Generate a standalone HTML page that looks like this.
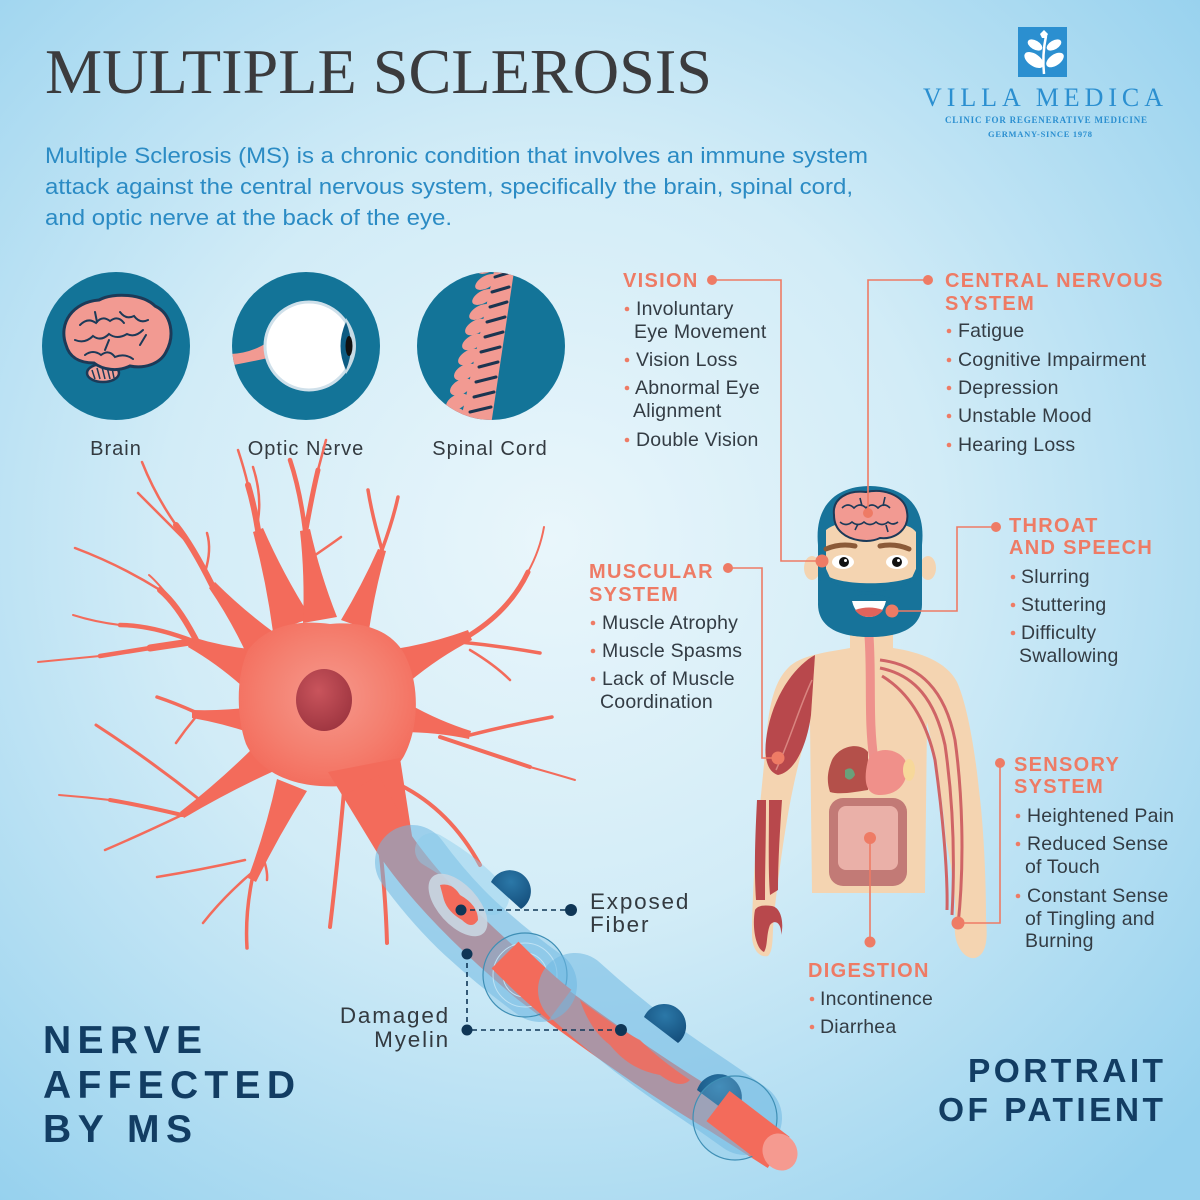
<!DOCTYPE html>
<html><head><meta charset="utf-8"><style>
html,body{margin:0;padding:0;width:1200px;height:1200px;overflow:hidden;background:#c8e8f6}
svg{display:block}
.s{font-family:"Liberation Sans",Arial,sans-serif}
.h{font-family:"Liberation Sans",Arial,sans-serif;font-weight:bold;font-size:20px;letter-spacing:1.3px;fill:#ee7b65}
.t{font-family:"Liberation Sans",Arial,sans-serif;font-size:19.5px;letter-spacing:0.2px;fill:#333c44}
.b{fill:#ee7b65}
.lab{font-family:"Liberation Sans",Arial,sans-serif;font-size:20px;letter-spacing:1px;fill:#333a40}
</style></head><body>
<svg width="1200" height="1200" viewBox="0 0 1200 1200" xmlns="http://www.w3.org/2000/svg">
<defs>
<radialGradient id="bg" cx="0.46" cy="0.45" r="0.72">
<stop offset="0" stop-color="#e9f6fb"/>
<stop offset="0.45" stop-color="#d2ecf7"/>
<stop offset="1" stop-color="#96d1ee"/>
</radialGradient>
<radialGradient id="soma" cx="0.5" cy="0.45" r="0.6">
<stop offset="0" stop-color="#f6988c"/>
<stop offset="0.6" stop-color="#f47f6f"/>
<stop offset="1" stop-color="#f36b5b"/>
</radialGradient>
<radialGradient id="nuc" cx="0.4" cy="0.35" r="0.7">
<stop offset="0" stop-color="#c9545c"/>
<stop offset="1" stop-color="#9e3540"/>
</radialGradient>
<radialGradient id="bump" cx="0.5" cy="0.3" r="0.8">
<stop offset="0" stop-color="#2b78a8"/>
<stop offset="1" stop-color="#124a77"/>
</radialGradient>
<clipPath id="c1"><circle cx="116" cy="346" r="74"/></clipPath>
<clipPath id="c2"><circle cx="306" cy="346" r="74"/></clipPath>
<clipPath id="c3"><circle cx="491" cy="346" r="74"/></clipPath>
</defs>

<rect width="1200" height="1200" fill="url(#bg)"/>

<!-- Title -->
<text x="45" y="93" font-family="'Liberation Serif',serif" font-size="64" fill="#3b3b3d" textLength="667" lengthAdjust="spacingAndGlyphs">MULTIPLE SCLEROSIS</text>

<g class="s" font-size="22" fill="#2b8bc4">
<text x="45" y="163" textLength="823" lengthAdjust="spacingAndGlyphs">Multiple Sclerosis (MS) is a chronic condition that involves an immune system</text>
<text x="45" y="194" textLength="808" lengthAdjust="spacingAndGlyphs">attack against the central nervous system, specifically the brain, spinal cord,</text>
<text x="45" y="225" textLength="407" lengthAdjust="spacingAndGlyphs">and optic nerve at the back of the eye.</text>
</g>

<!-- Logo -->
<rect x="1018" y="27" width="49" height="50" fill="#2b8fd0"/>
<g fill="#ffffff">
<path d="M1044,74 Q1042,55 1046,36" stroke="#fff" stroke-width="2.5" fill="none"/>
<ellipse cx="1034" cy="60" rx="11" ry="6" transform="rotate(35 1034 60)"/>
<ellipse cx="1055" cy="60" rx="10" ry="5.5" transform="rotate(-35 1055 60)"/>
<ellipse cx="1035" cy="45" rx="8" ry="4.5" transform="rotate(30 1035 45)"/>
<ellipse cx="1054" cy="45" rx="8" ry="4.5" transform="rotate(-30 1054 45)"/>
<path d="M1040,34 L1044,30 L1048,34 L1046,38 L1042,38 Z"/>
</g>
<text x="923" y="106" font-family="'Liberation Serif',serif" font-size="26" fill="#2b8fd0" textLength="240" lengthAdjust="spacing">VILLA MEDICA</text>
<text x="945" y="123" font-family="'Liberation Serif',serif" font-size="9" font-weight="bold" fill="#2b8fd0" textLength="202" lengthAdjust="spacing">CLINIC FOR REGENERATIVE MEDICINE</text>
<text x="988" y="137" font-family="'Liberation Serif',serif" font-size="8.5" font-weight="bold" fill="#2b8fd0" textLength="104" lengthAdjust="spacing">GERMANY-SINCE 1978</text>

<!-- Circles -->
<circle cx="116" cy="346" r="74" fill="#137498"/>
<circle cx="306" cy="346" r="74" fill="#137498"/>
<circle cx="491" cy="346" r="74" fill="#137498"/>

<!-- Brain icon -->
<g clip-path="url(#c1)">
<ellipse cx="103" cy="373" rx="16" ry="9" fill="#f2a099" stroke="#1c3a58" stroke-width="2.5"/>
<path d="M92,370 l3,9 M97,368 l3,11 M102,367 l3,12 M107,367 l3,12 M112,368 l2,10" stroke="#1c3a58" stroke-width="1.5"/>
<path d="M66,345 C58,323 73,302 99,300 C114,292 143,294 155,306 C172,314 175,336 166,352 C160,364 144,369 130,366 C118,372 103,370 94,363 C78,363 69,356 66,345 Z" fill="#f29a92" stroke="#1c3a58" stroke-width="3"/>
<g stroke="#1c3a58" stroke-width="2" fill="none" stroke-linecap="round">
<path d="M80,325 q8,-8 16,-2 q6,-8 14,-2 q8,-6 14,2"/>
<path d="M75,340 q10,4 18,-4 q8,6 16,-2 q8,6 18,0 q8,4 16,-4"/>
<path d="M85,355 q8,-6 16,0 q8,-6 14,2 q10,-4 18,2"/>
<path d="M120,312 q6,8 14,4 q6,8 14,4"/>
<path d="M105,350 l4,-10 M140,345 l6,-10 M95,312 l2,10"/>
</g>
</g>

<!-- Eye icon -->
<g clip-path="url(#c2)">
<path d="M228,354 Q250,354 268,342 L268,358 Q250,362 228,366 Z" fill="#f29a92"/>
<circle cx="309" cy="346" r="44" fill="#ffffff" stroke="#cfe0ea" stroke-width="3"/>
<path d="M346,318 Q366,346 346,374 Q338,346 346,318 Z" fill="#c6dbe5"/>
<path d="M346,322 Q356,346 346,370 Q335,346 346,322 Z" fill="#0d5b82"/>
<ellipse cx="349" cy="346" rx="3.5" ry="10" fill="#111"/>
</g>

<!-- Spine icon -->
<g clip-path="url(#c3)">
<polygon points="516,258 490,432 458,432 497,258" fill="#f29a92"/>
<g fill="#f29a92">
<ellipse cx="488" cy="266" rx="12" ry="6" transform="rotate(-30 488 266)"/>
<ellipse cx="486" cy="282" rx="12" ry="6" transform="rotate(-30 486 282)"/>
<ellipse cx="483" cy="297" rx="12" ry="6" transform="rotate(-30 483 297)"/>
<ellipse cx="480" cy="312" rx="12" ry="6" transform="rotate(-30 480 312)"/>
<ellipse cx="476" cy="327" rx="12" ry="6.5" transform="rotate(-30 476 327)"/>
<ellipse cx="473" cy="342" rx="12" ry="6.5" transform="rotate(-30 473 342)"/>
<ellipse cx="469" cy="357" rx="12" ry="6.5" transform="rotate(-30 469 357)"/>
<ellipse cx="465" cy="372" rx="12" ry="7" transform="rotate(-30 465 372)"/>
<ellipse cx="461" cy="387" rx="12" ry="7" transform="rotate(-30 461 387)"/>
<ellipse cx="457" cy="402" rx="12" ry="7" transform="rotate(-30 457 402)"/>
<ellipse cx="453" cy="417" rx="12" ry="7" transform="rotate(-30 453 417)"/>
</g>
<g stroke="#1b3550" stroke-width="3" stroke-linecap="round">
<path d="M511,272 l-16,5 M509,287 l-17,5 M507,302 l-17,5 M505,317 l-18,5 M503,332 l-18,5 M500,347 l-19,5 M498,362 l-19,5 M496,377 l-20,5 M494,392 l-20,5 M491,407 l-21,5 M489,422 l-21,5"/>
</g>
</g>

<text x="116" y="455" text-anchor="middle" class="lab">Brain</text>
<text x="306" y="455" text-anchor="middle" class="lab">Optic Nerve</text>
<text x="490" y="455" text-anchor="middle" class="lab">Spinal Cord</text>

<!-- Neuron: tapered trunks -->
<g fill="#f36b5b">
<path d="M258,650 Q224,647 192,637 L188,647 Q216,663 242,686 Z"/>
<path d="M276,634 Q243,610 215,582 L209,588 Q231,620 248,657 Z"/>
<path d="M311,618 Q283,574 263,528 L253,532 Q266,580 273,632 Z"/>
<path d="M337,617 Q320,574 310,529 L300,531 Q305,576 303,623 Z"/>
<path d="M369,630 Q375,590 386,551 L378,549 Q362,585 341,620 Z"/>
<path d="M409,682 Q439,657 472,640 L468,630 Q433,643 395,649 Z"/>
<path d="M401,732 Q436,732 469,739 L471,731 Q439,721 409,704 Z"/>
<path d="M253,707 Q223,711 192,710 L192,718 Q221,723 251,733 Z"/>
<path d="M256,745 Q220,781 180,812 L184,818 Q228,792 274,771 Z"/>
<path d="M277,779 Q266,830 248,878 L256,882 Q279,835 307,791 Z"/>
</g>
<g stroke="#f36b5b" fill="none" stroke-linecap="round" stroke-linejoin="round">
<path d="M190,642 L150,648" stroke-width="7"/><path d="M150,648 L100,656" stroke-width="4.5"/><path d="M100,656 L38,662" stroke-width="2"/>
<path d="M190,640 Q150,625 120,625" stroke-width="4.5"/><path d="M120,625 Q95,622 73,615" stroke-width="2"/>
<path d="M196,640 Q178,605 160,590" stroke-width="6"/><path d="M160,590 Q120,565 75,548" stroke-width="2.5"/>
<path d="M165,592 Q155,580 149,575" stroke-width="2"/>
<path d="M212,585 Q192,545 176,525" stroke-width="6"/><path d="M176,525 Q155,495 142,462" stroke-width="2.5"/>
<path d="M185,540 Q160,515 138,493" stroke-width="2.5"/>
<path d="M205,572 Q212,550 207,533" stroke-width="2.5"/>
<path d="M258,530 Q254,505 248,485" stroke-width="6"/><path d="M248,485 Q244,468 238,450" stroke-width="2.5"/>
<path d="M258,520 Q262,495 253,467" stroke-width="2.5"/>
<path d="M305,530 Q300,490 290,460" stroke-width="4.5"/>
<path d="M305,535 Q312,495 318,470" stroke-width="5"/><path d="M318,470 Q322,455 326,440" stroke-width="2.5"/>
<path d="M308,560 Q330,545 341,537" stroke-width="2.5"/>
<path d="M382,550 Q372,515 368,490" stroke-width="3.5"/>
<path d="M382,550 Q393,520 398,497" stroke-width="3.5"/>
<path d="M470,635 Q510,610 528,572" stroke-width="5"/><path d="M528,572 Q540,550 544,527" stroke-width="2"/>
<path d="M460,642 Q500,646 540,653" stroke-width="3.5"/>
<path d="M470,650 Q495,665 510,680" stroke-width="2.5"/>
<path d="M470,735 Q510,725 552,717" stroke-width="3.5"/>
<path d="M440,737 Q500,757 530,767" stroke-width="4"/><path d="M530,767 Q555,774 575,780" stroke-width="2"/>
<path d="M195,712 Q175,703 157,697" stroke-width="3.5"/>
<path d="M195,718 Q185,730 176,743" stroke-width="2.5"/>
<path d="M182,815 Q140,805 110,800" stroke-width="4"/><path d="M110,800 Q85,797 59,795" stroke-width="2"/>
<path d="M200,800 Q150,760 96,725" stroke-width="3"/>
<path d="M182,815 Q140,835 105,850" stroke-width="2.5"/>
<path d="M252,880 Q245,915 247,948" stroke-width="3.5"/>
<path d="M255,870 Q225,895 203,923" stroke-width="2.5"/>
<path d="M245,860 Q200,870 157,877" stroke-width="2.5"/>
<path d="M262,855 Q268,870 267,880" stroke-width="2.5"/>
<path d="M345,780 Q338,860 330,927" stroke-width="4"/>
<path d="M372,790 Q385,870 387,943" stroke-width="4"/>
<path d="M400,785 Q450,810 480,865" stroke-width="4"/>
</g>
<!-- soma -->
<path d="M248,650 C268,624 300,620 330,624 C368,620 398,634 408,662 C420,690 418,730 404,756 C389,782 352,788 320,786 C288,784 258,770 246,744 C236,716 236,676 248,650 Z" fill="url(#soma)"/>
<!-- axon -->
<path d="M328,772 L400,758 L412,836 L378,854 Z" fill="#f36b5b"/>
<path d="M362,785 Q380,815 395,845 Q440,910 530,985 Q640,1068 720,1115 L778,1152" stroke="#f36b5b" stroke-width="38" fill="none" stroke-linecap="butt"/>
<ellipse cx="324" cy="700" rx="28" ry="31" fill="url(#nuc)"/>

<!-- myelin segment 1 -->
<path d="M412,862 Q440,900 470,928 Q505,960 540,985" stroke="#6fb8e2" stroke-opacity="0.55" stroke-width="74" fill="none" stroke-linecap="round"/>
<path d="M432,850 Q470,872 492,898" stroke="#8ccbec" stroke-opacity="0.45" stroke-width="34" fill="none" stroke-linecap="round"/>
<ellipse cx="458" cy="905" rx="38" ry="20" transform="rotate(48 458 905)" fill="#c9d6e2" opacity="0.9"/>
<path d="M440,885 Q452,882 460,895 Q478,905 478,920 Q472,930 462,920 Q448,912 444,900 Z" fill="#f36b5b"/>
<path d="M491,882 A21,21 0 1 1 521,909 Z" fill="url(#bump)"/>
<!-- node ring 1 -->
<circle cx="525" cy="975" r="42" fill="#7fc0e6" fill-opacity="0.35" stroke="#3f8fb5" stroke-width="1.2"/>
<circle cx="525" cy="975" r="32" fill="none" stroke="#bfe2f4" stroke-width="1"/>
<circle cx="525" cy="975" r="22" fill="none" stroke="#bfe2f4" stroke-width="1"/>
<path d="M505,955 Q540,990 560,1005" stroke="#f36b5b" stroke-width="38" fill="none"/>
<!-- myelin segment 2 -->
<path d="M575,990 Q630,1040 690,1080 Q720,1100 745,1118" stroke="#6fb8e2" stroke-opacity="0.55" stroke-width="74" fill="none" stroke-linecap="round"/>
<path d="M580,1000 Q620,1030 640,1040 Q660,1060 690,1080 Q680,1090 660,1075 Q630,1070 610,1045 Q590,1030 580,1000 Z" fill="#f36b5b" opacity="0.85"/>
<path d="M644,1017 A22,22 0 1 1 678,1043 Z" fill="url(#bump)"/>
<path d="M697,1090 A23,23 0 1 1 732,1116 Z" fill="url(#bump)"/>
<!-- node ring 2 -->
<circle cx="735" cy="1118" r="42" fill="#7fc0e6" fill-opacity="0.3" stroke="#3f8fb5" stroke-width="1.2"/>
<path d="M718,1106 L778,1152" stroke="#f36b5b" stroke-width="38" fill="none"/>
<ellipse cx="780" cy="1152" rx="17" ry="19" transform="rotate(-30 780 1152)" fill="#f59a90"/>

<!-- callouts -->
<g stroke="#0f3656" stroke-width="1.6" stroke-dasharray="5,4" fill="none">
<path d="M461,910 H571"/>
<path d="M467,954 V1030 H621"/>
</g>
<g fill="#0f3656">
<circle cx="461" cy="910" r="5.5"/><circle cx="571" cy="910" r="6"/>
<circle cx="467" cy="954" r="5.5"/><circle cx="467" cy="1030" r="5.5"/><circle cx="621" cy="1030" r="6"/>
</g>
<g class="s" font-size="22.5" letter-spacing="1.8" fill="#333a40">
<text x="590" y="909">Exposed</text>
<text x="590" y="932">Fiber</text>
<text x="450" y="1023" text-anchor="end">Damaged</text>
<text x="450" y="1047" text-anchor="end">Myelin</text>
</g>

<!-- bottom titles -->
<g class="s" font-weight="bold" fill="#123d63">
<text x="43" y="1053" font-size="39" textLength="159" lengthAdjust="spacing">NERVE</text>
<text x="43" y="1098" font-size="39" textLength="252" lengthAdjust="spacing">AFFECTED</text>
<text x="43" y="1142" font-size="39" textLength="149" lengthAdjust="spacing">BY MS</text>
<text x="968" y="1082" font-size="33.5" textLength="195" lengthAdjust="spacing">PORTRAIT</text>
<text x="938" y="1121" font-size="33.5" textLength="225" lengthAdjust="spacing">OF PATIENT</text>
</g>

<!-- Body -->
<path d="M850,630 L850,648 C828,652 800,655 788,668 C776,680 770,700 767,730 C763,780 758,820 755,860 C753,890 752,915 752,935 C752,950 760,958 768,956 C774,950 772,935 774,915 C778,880 782,850 787,820 C793,785 800,755 810,722 L812,893 L925,893 L927,722 C936,760 943,800 946,840 C952,870 957,900 955,925 C953,945 965,960 975,958 C986,955 988,940 986,920 C986,880 984,830 979,790 C974,742 966,702 957,682 C947,662 920,652 893,648 L893,630 Z" fill="#f4d4b1"/>
<path d="M815,655 C798,664 776,690 768,728 C763,752 765,771 778,775 C795,772 807,745 811,715 Z" fill="#b8484c"/>
<path d="M776,770 C790,740 800,705 812,680" stroke="#d98580" stroke-width="1.5" fill="none"/>
<path d="M757,800 C755,840 754,870 756,900 L765,900 C765,870 766,840 766,800 Z" fill="#b8484c"/>
<path d="M769,800 C769,840 768,870 770,895 L778,890 C778,860 780,830 782,800 Z" fill="#b8484c"/>
<path d="M755,910 C752,925 755,948 764,952 C768,946 766,935 770,925 C776,918 782,925 781,935 C784,925 782,908 772,906 C765,905 758,905 755,910 Z" fill="#b8484c"/>
<g stroke="#cf6466" stroke-width="3" fill="none">
<path d="M880,660 C920,665 945,690 955,740 C962,790 965,860 958,925"/>
<path d="M880,668 C915,675 935,700 945,745 C953,800 955,860 952,915"/>
<path d="M882,676 C905,690 925,715 935,760 C942,810 948,870 947,910"/>
</g>
<path d="M869,636 C872,680 868,720 874,760" stroke="#ee918c" stroke-width="9" fill="none"/>
<path d="M832,760 C840,745 860,742 868,752 L868,790 C855,792 840,795 830,792 C826,780 828,770 832,760 Z" fill="#b4504a"/>
<path d="M845,770 q8,-5 10,5 q-5,8 -10,2 z" fill="#6aa07a"/>
<path d="M868,760 C875,745 900,748 906,762 C910,780 900,795 880,795 C868,795 862,785 868,760 Z" fill="#f0908a"/>
<ellipse cx="909" cy="770" rx="6" ry="11" fill="#f7d89a"/>
<rect x="829" y="798" width="78" height="88" rx="14" fill="#c27a76"/>
<rect x="838" y="806" width="60" height="64" rx="8" fill="#eab0a8"/>
<path d="M860,870 C865,885 878,888 882,870" fill="#c27a76"/>

<!-- Head -->
<ellipse cx="812" cy="568" rx="8" ry="12" fill="#f4d4b1"/>
<ellipse cx="928" cy="568" rx="8" ry="12" fill="#f4d4b1"/>
<path d="M818,545 C814,502 840,486 870,486 C906,487 926,506 922,545 L922,600 C922,626 900,637 870,637 C840,637 818,626 818,600 Z" fill="#17739a"/>
<path d="M826,530 C840,518 872,522 880,527 C895,522 910,524 916,532 L916,575 C900,586 840,586 826,575 Z" fill="#f4d4b1"/>
<path d="M822,560 L832,582 C850,595 890,595 910,582 L920,560 L922,604 C922,628 900,637 870,637 C840,637 818,628 818,604 Z" fill="#17739a"/>
<path d="M850,598 Q870,590 890,598 Q880,606 870,605 Q860,606 850,598 Z" fill="#17739a"/>
<path d="M852,601 L886,601 Q882,617 869,617 Q856,617 852,601 Z" fill="#ffffff"/>
<path d="M855,610 Q869,605 883,610 Q878,617 869,617 Q860,617 855,610 Z" fill="#e0635c"/>
<path d="M834,515 C832,498 848,490 866,492 C885,488 905,496 907,512 C910,528 896,540 880,538 C868,544 850,540 842,533 C836,528 834,522 834,515 Z" fill="#f29a92" stroke="#1c3a58" stroke-width="2"/>
<g stroke="#1c3a58" stroke-width="1.6" fill="none">
<path d="M842,508 q6,-6 12,0 q6,-6 12,0 q6,-6 12,0 q6,-6 12,0"/>
<path d="M840,522 q6,5 12,0 q6,5 12,0 q6,5 12,0 q6,5 12,0 q5,4 10,0"/>
<path d="M860,498 l2,8 M885,497 l-2,9 M855,530 l3,-6 M888,532 l-2,-7"/>
</g>
<path d="M826,549 Q840,543 855,546" stroke="#8b5a38" stroke-width="5" fill="none" stroke-linecap="round"/>
<path d="M880,546 Q895,543 909,549" stroke="#8b5a38" stroke-width="5" fill="none" stroke-linecap="round"/>
<ellipse cx="843" cy="562" rx="11" ry="7" fill="#ffffff"/>
<ellipse cx="897" cy="562" rx="11" ry="7" fill="#ffffff"/>
<circle cx="844" cy="562" r="5" fill="#111"/><circle cx="897" cy="562" r="5" fill="#111"/>
<circle cx="845.5" cy="560.5" r="1.5" fill="#fff"/><circle cx="898.5" cy="560.5" r="1.5" fill="#fff"/>

<!-- Connectors -->
<g stroke="#ee7b65" stroke-width="1.6" fill="none">
<path d="M712,280 H781 V561 H822"/>
<path d="M928,280 H868 V513"/>
<path d="M996,527 H957 V611 H892"/>
<path d="M728,568 H762 V758 H778"/>
<path d="M1000,763 V923 H958"/>
<path d="M870,942 V838"/>
</g>
<g class="b">
<circle cx="712" cy="280" r="5"/><circle cx="822" cy="561" r="6.5"/>
<circle cx="928" cy="280" r="5"/><circle cx="868" cy="513" r="5"/>
<circle cx="996" cy="527" r="5"/><circle cx="892" cy="611" r="6.5"/>
<circle cx="728" cy="568" r="5"/><circle cx="778" cy="758" r="6.5"/>
<circle cx="1000" cy="763" r="5"/><circle cx="958" cy="923" r="6.5"/>
<circle cx="870" cy="942" r="5.5"/><circle cx="870" cy="838" r="6"/>
</g>

<!-- Headings -->
<text class="h" x="623" y="287">VISION</text>
<text class="h" x="945" y="287">CENTRAL NERVOUS</text>
<text class="h" x="945" y="310">SYSTEM</text>
<text class="h" x="1009" y="532">THROAT</text>
<text class="h" x="1009" y="554">AND SPEECH</text>
<text class="h" x="589" y="578">MUSCULAR</text>
<text class="h" x="589" y="601">SYSTEM</text>
<text class="h" x="1014" y="771">SENSORY</text>
<text class="h" x="1014" y="793">SYSTEM</text>
<text class="h" x="808" y="977">DIGESTION</text>

<!-- Items -->
<g class="b">
<circle cx="627" cy="309" r="2.3"/><circle cx="627" cy="360" r="2.3"/><circle cx="627" cy="388" r="2.3"/><circle cx="627" cy="440" r="2.3"/>
<circle cx="949" cy="331" r="2.3"/><circle cx="949" cy="360" r="2.3"/><circle cx="949" cy="388" r="2.3"/><circle cx="949" cy="416" r="2.3"/><circle cx="949" cy="445" r="2.3"/>
<circle cx="1013" cy="577" r="2.3"/><circle cx="1013" cy="605" r="2.3"/><circle cx="1013" cy="633" r="2.3"/>
<circle cx="593" cy="623" r="2.3"/><circle cx="593" cy="651" r="2.3"/><circle cx="593" cy="679" r="2.3"/>
<circle cx="1018" cy="816" r="2.3"/><circle cx="1018" cy="844" r="2.3"/><circle cx="1018" cy="896" r="2.3"/>
<circle cx="812" cy="999" r="2.3"/><circle cx="812" cy="1027" r="2.3"/>
</g>
<g class="t">
<text x="636" y="315">Involuntary</text>
<text x="634" y="338">Eye Movement</text>
<text x="636" y="366">Vision Loss</text>
<text x="635" y="394">Abnormal Eye</text>
<text x="633" y="417">Alignment</text>
<text x="636" y="446">Double Vision</text>

<text x="958" y="337">Fatigue</text>
<text x="958" y="366">Cognitive Impairment</text>
<text x="958" y="394">Depression</text>
<text x="958" y="422">Unstable Mood</text>
<text x="958" y="451">Hearing Loss</text>

<text x="1021" y="583">Slurring</text>
<text x="1021" y="611">Stuttering</text>
<text x="1021" y="639">Difficulty</text>
<text x="1019" y="662">Swallowing</text>

<text x="602" y="629">Muscle Atrophy</text>
<text x="602" y="657">Muscle Spasms</text>
<text x="602" y="685">Lack of Muscle</text>
<text x="600" y="708">Coordination</text>

<text x="1027" y="822">Heightened Pain</text>
<text x="1027" y="850">Reduced Sense</text>
<text x="1025" y="873">of Touch</text>
<text x="1027" y="902">Constant Sense</text>
<text x="1025" y="925">of Tingling and</text>
<text x="1025" y="947">Burning</text>

<text x="820" y="1005">Incontinence</text>
<text x="820" y="1033">Diarrhea</text>
</g>
</svg>
</body></html>
